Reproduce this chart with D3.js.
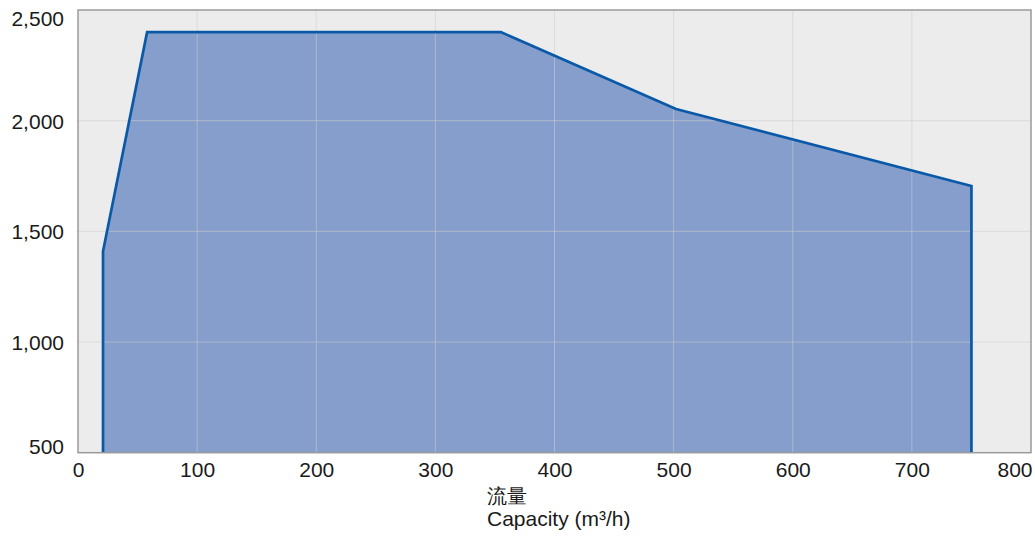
<!DOCTYPE html>
<html><head><meta charset="utf-8">
<script src="https://cdn.jsdelivr.net/npm/d3@7"></script>
<style>
html,body{margin:0;padding:0;background:#fff;}
svg{display:block;}
text{font-family:"Liberation Sans",Arial,Helvetica,sans-serif;fill:#1a1a1a;}
</style></head>
<body><svg id="c" width="1035" height="537"></svg>
<script>
const capacity = [21, 21, 58, 355, 502, 750, 750];
const head     = [500, 1410, 2400, 2400, 2053, 1705, 500];
const xTicks = [0,100,200,300,400,500,600,700,800];
const yTicks = [500,1000,1500,2000,2500];
const xTitle = ["流量", "Capacity (m³/h)"];

const svg = d3.select("#c");
const L=78, R=1031, T=10, B=452.7;
const x = d3.scaleLinear().domain([0,800]).range([L,R]);
const y = d3.scaleLinear().domain([500,2500]).range([B,T]);

svg.append("rect").attr("x",L).attr("y",T).attr("width",R-L).attr("height",B-T).attr("fill","#ececec");

const pts = capacity.map((c,i)=>[c, head[i]]);
svg.append("path").datum(pts)
  .attr("d", d3.area().x(d=>x(d[0])).y0(y(500)).y1(d=>y(d[1])))
  .attr("fill","#869ecb");

// gridlines on top
const g = svg.append("g");
g.selectAll("line.v").data(xTicks.slice(1,-1)).join("line")
  .attr("x1",d=>x(d)).attr("x2",d=>x(d)).attr("y1",T).attr("y2",B)
  .attr("stroke","rgba(205,205,205,0.55)").attr("stroke-width",1);
g.selectAll("line.h").data(yTicks.slice(1,-1)).join("line")
  .attr("y1",d=>y(d)).attr("y2",d=>y(d)).attr("x1",L).attr("x2",R)
  .attr("stroke","rgba(205,205,205,0.55)").attr("stroke-width",1);

svg.append("path").datum(pts)
  .attr("d", d3.line().x(d=>x(d[0])).y(d=>y(d[1])))
  .attr("fill","none").attr("stroke","#0a59a8").attr("stroke-width",2.7).attr("stroke-linejoin","miter");

svg.append("rect").attr("x",L).attr("y",T).attr("width",R-L).attr("height",B-T)
  .attr("fill","none").attr("stroke","#9a9a9a").attr("stroke-width",1.5);

// axes
const xa = svg.append("g").attr("transform",`translate(0,${B})`)
  .call(d3.axisBottom(x).tickValues(xTicks).tickFormat(d3.format("d")).tickSize(0).tickPadding(0));
xa.select(".domain").remove();
xa.selectAll("text").attr("dy",null).attr("y",24).style("font-size","21px").style("fill","#1a1a1a")
  .attr("text-anchor", d => d===800 ? "end" : "middle")
  .attr("x", d => d===800 ? 1 : 0);

const ya = svg.append("g").attr("transform",`translate(64,0)`)
  .call(d3.axisLeft(y).tickValues(yTicks).tickFormat(d3.format(",")).tickSize(0).tickPadding(0));
ya.select(".domain").remove();
ya.selectAll("text").style("font-size","21px").style("fill","#1a1a1a")
  .attr("dy", d => d===2500 ? "0.72em" : d===500 ? "0.02em" : "0.35em");

svg.append("text").attr("x",487).attr("y",503).style("font-size","20px").text(xTitle[0]);
svg.append("text").attr("x",487).attr("y",526).style("font-size","21px").text(xTitle[1]);
</script></body></html>
